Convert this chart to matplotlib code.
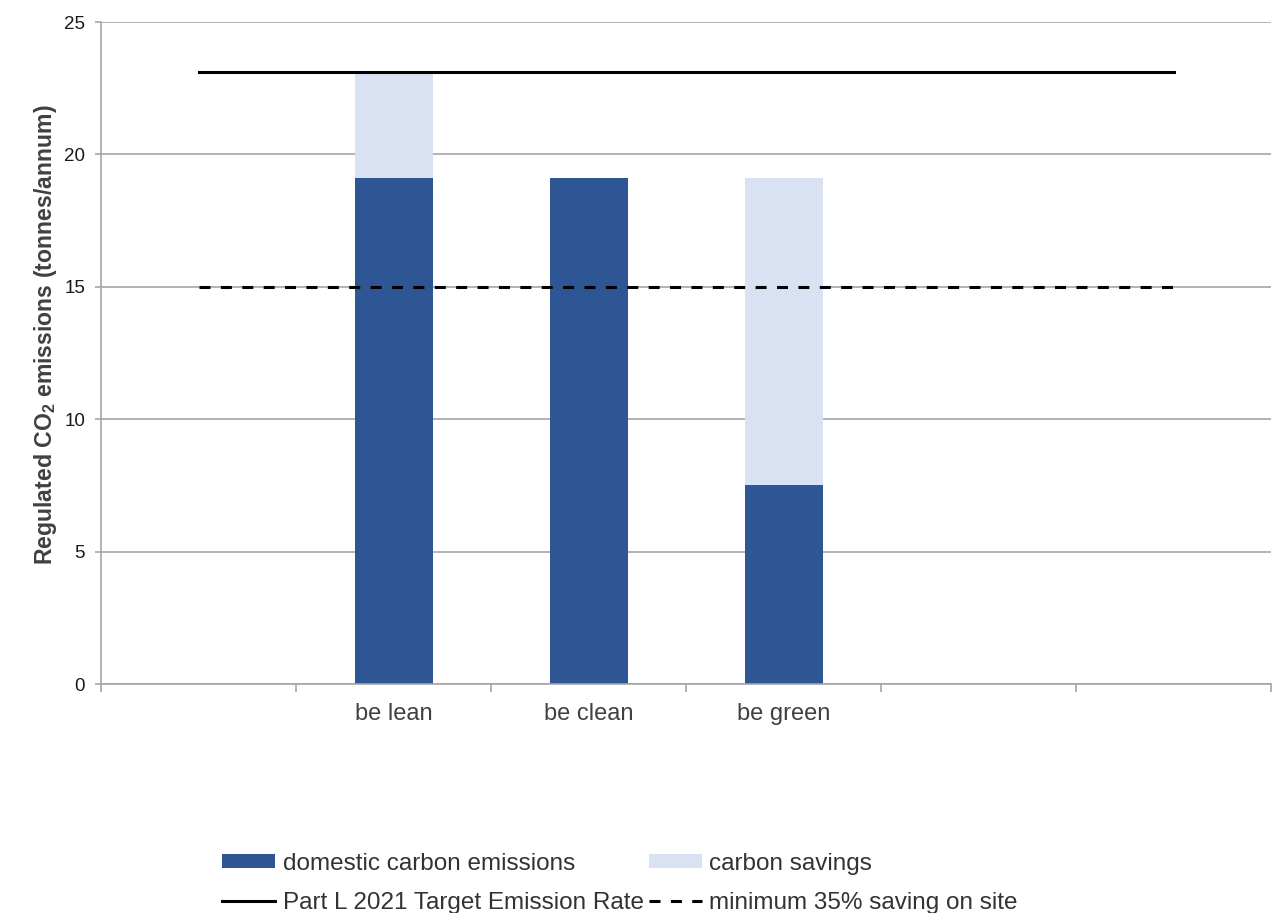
import numpy as np
import matplotlib
matplotlib.use('Agg')
import matplotlib.pyplot as plt
from matplotlib.patches import Patch
from matplotlib.lines import Line2D

plt.rcParams['font.family'] = ['Liberation Sans', 'DejaVu Sans']
plt.rcParams['mathtext.fontset'] = 'custom'
plt.rcParams['mathtext.rm'] = 'Liberation Sans'
plt.rcParams['mathtext.bf'] = 'Liberation Sans:bold'

# ---------------------------------------------------------------- data

categories = ['', 'be lean', 'be clean', 'be green', '', '']
domestic_emissions = [0.0, 19.1, 19.1, 7.5, 0.0, 0.0]
carbon_savings = [0.0, 4.0, 0.0, 11.6, 0.0, 0.0]
target_emission_rate = [23.1, 23.1, 23.1, 23.1, 23.1, 23.1]
min_35_saving = [15.0, 15.0, 15.0, 15.0, 15.0, 15.0]

DARK_BLUE = '#2E5594'
LIGHT_BLUE = '#D9E2F3'
GRID_GREY = '#A6A6A6'
DASHES = (0, (3.6, 3.4))

# ---------------------------------------------------------------- plot

fig = plt.figure(figsize=(12.85, 9.13), dpi=100)
ax = fig.add_axes([101 / 1285, 1 - 684 / 913, 1170 / 1285, 662 / 913])

x = np.arange(len(categories))
ax.bar(x, domestic_emissions, width=0.4, color=DARK_BLUE, zorder=2)
ax.bar(x, carbon_savings, width=0.4, bottom=domestic_emissions, color=LIGHT_BLUE, zorder=2)

ax.plot(x, target_emission_rate, color='black', lw=2.2, zorder=3)
ax.plot(x, min_35_saving, color='black', lw=2.2, ls=DASHES, zorder=3)

ax.set_xlim(-0.5, len(categories) - 0.5)
ax.set_ylim(0, 25)
ax.set_yticks(np.arange(0, 26, 5))
ax.yaxis.grid(True, color=GRID_GREY, lw=1.2, zorder=0)
ax.set_axisbelow(True)

# category labels between the boundary ticks, like a spreadsheet chart
ax.set_xticks(np.arange(-0.5, len(categories), 1.0))
ax.set_xticklabels([])
ax.set_xticks(x, minor=True)
ax.set_xticklabels(categories, minor=True, fontsize=17, color='#404040')
ax.tick_params(axis='x', which='major', length=5.5, width=1.2, color=GRID_GREY)
ax.tick_params(axis='x', which='minor', length=0, pad=13.5)
ax.tick_params(axis='y', length=4.5, width=1.2, color=GRID_GREY, labelsize=13.5,
               pad=7, labelcolor='#1a1a1a')

for side in ['top', 'right']:
    ax.spines[side].set_visible(False)
for side in ['left', 'bottom']:
    ax.spines[side].set_color(GRID_GREY)
    ax.spines[side].set_linewidth(1.2)

ax.set_ylabel(r'Regulated CO$_\mathbf{2}$ emissions (tonnes/annum)',
              fontsize=16.6, fontweight='bold', color='#404040')
ax.yaxis.set_label_coords(-0.036, 0.527)

handles = [Patch(facecolor=DARK_BLUE), Patch(facecolor=LIGHT_BLUE),
           Line2D([], [], color='black', lw=2.2),
           Line2D([], [], color='black', lw=2.2, ls=DASHES)]
labels = ['domestic carbon emissions', 'carbon savings',
          'Part L 2021 Target Emission Rate', 'minimum 35% saving on site']
fig.legend([handles[0], handles[2], handles[1], handles[3]],
           [labels[0], labels[2], labels[1], labels[3]],
           ncol=2, loc='upper left', bbox_to_anchor=(222 / 1285, 1 - 853 / 913),
           frameon=False, fontsize=17.5, handlelength=2.2, handleheight=0.5,
           handletextpad=0.3, columnspacing=0.2, labelspacing=0.7,
           borderpad=0, borderaxespad=0, labelcolor='#333333')

fig.savefig('out.png', dpi=100)
